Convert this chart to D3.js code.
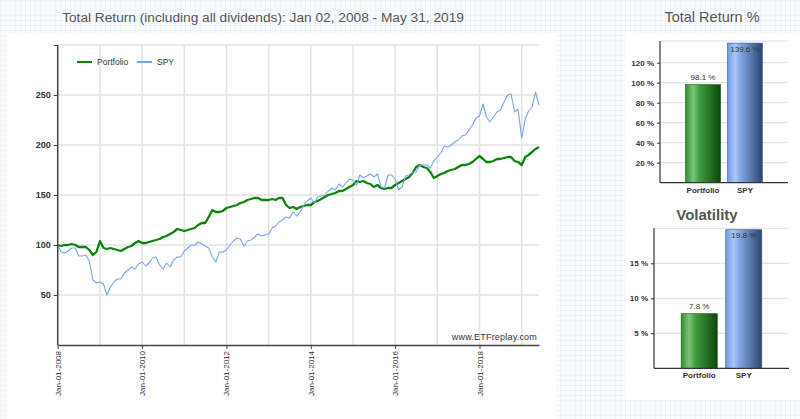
<!DOCTYPE html>
<html><head><meta charset="utf-8">
<script src="https://cdn.jsdelivr.net/npm/d3@7"></script>
<style>body{margin:0;background:#fff;} svg{display:block;font-family:"Liberation Sans",Arial,sans-serif;}</style>
</head><body><svg id="c" width="800" height="419"></svg>
<script>
// ---------- DATA ----------
const months = [
"2008-01-01","2008-02-01","2008-03-01","2008-04-01","2008-05-01","2008-06-01","2008-07-01","2008-08-01","2008-09-01","2008-10-01","2008-11-01","2008-12-01",
"2009-01-01","2009-02-01","2009-03-01","2009-04-01","2009-05-01","2009-06-01","2009-07-01","2009-08-01","2009-09-01","2009-10-01","2009-11-01","2009-12-01",
"2010-01-01","2010-02-01","2010-03-01","2010-04-01","2010-05-01","2010-06-01","2010-07-01","2010-08-01","2010-09-01","2010-10-01","2010-11-01","2010-12-01",
"2011-01-01","2011-02-01","2011-03-01","2011-04-01","2011-05-01","2011-06-01","2011-07-01","2011-08-01","2011-09-01","2011-10-01","2011-11-01","2011-12-01",
"2012-01-01","2012-02-01","2012-03-01","2012-04-01","2012-05-01","2012-06-01","2012-07-01","2012-08-01","2012-09-01","2012-10-01","2012-11-01","2012-12-01",
"2013-01-01","2013-02-01","2013-03-01","2013-04-01","2013-05-01","2013-06-01","2013-07-01","2013-08-01","2013-09-01","2013-10-01","2013-11-01","2013-12-01",
"2014-01-01","2014-02-01","2014-03-01","2014-04-01","2014-05-01","2014-06-01","2014-07-01","2014-08-01","2014-09-01","2014-10-01","2014-11-01","2014-12-01",
"2015-01-01","2015-02-01","2015-03-01","2015-04-01","2015-05-01","2015-06-01","2015-07-01","2015-08-01","2015-09-01","2015-10-01","2015-11-01","2015-12-01",
"2016-01-01","2016-02-01","2016-03-01","2016-04-01","2016-05-01","2016-06-01","2016-07-01","2016-08-01","2016-09-01","2016-10-01","2016-11-01","2016-12-01",
"2017-01-01","2017-02-01","2017-03-01","2017-04-01","2017-05-01","2017-06-01","2017-07-01","2017-08-01","2017-09-01","2017-10-01","2017-11-01","2017-12-01",
"2018-01-01","2018-02-01","2018-03-01","2018-04-01","2018-05-01","2018-06-01","2018-07-01","2018-08-01","2018-09-01","2018-10-01","2018-11-01","2018-12-01",
"2019-01-01","2019-02-01","2019-03-01","2019-04-01","2019-05-01","2019-05-31"];

const portfolio = [
100,99,100,100,101,100,98,98,98,95,90,93,
104,97,96,97,96,95,94,96,98,99,102,104,
102,102,103,104,105,106,108,109,111,113,116,115,
114,115,116,117,120,122,122,128,135,133,133,134,
137,138,139,140,142,143,145,146,147,147,145,145,
145,146,145,147,147,140,137,138,136,138,139,140,
140,143,144,146,148,150,151,152,154,154,156,158,
160,164,163,164,162,161,158,160,157,156,157,157,
160,162,164,166,168,172,178,180,178,177,173,167,
169,171,172,174,175,176,178,180,180,181,183,186,
189,186,183,183,184,186,186,187,188,188,184,183,
180,188,190,193,196,198];

const spy = [
100,93,92,94,97,97,89,89,90,84,65,62,
63,61,50,58,63,66,66,72,75,78,76,81,
83,79,82,87,88,80,76,82,78,85,88,88,
94,97,100,100,103,101,99,97,88,83,93,93,
95,100,104,107,106,99,104,105,108,111,109,110,
111,117,119,123,125,128,127,133,129,133,140,144,
147,142,148,149,150,154,157,155,161,158,162,166,
165,160,170,167,169,171,168,171,158,157,170,170,
166,155,158,169,170,173,173,180,180,180,177,184,
188,192,199,198,200,203,205,209,210,215,220,227,
229,241,228,223,228,233,235,243,250,251,233,236,
207,226,234,238,253,240];

const seriesNames = ["Portfolio","SPY"];
const yTicks = [50,100,150,200,250,300];
const xTickYears = ["2008-01-01","2010-01-01","2012-01-01","2014-01-01","2016-01-01","2018-01-01"];

const barCategories = ["Portfolio","SPY"];
const totalReturn = [98.1, 139.6];
const totalReturnTicks = [20,40,60,80,100,120];
const volatility = [7.8, 19.8];
const volatilityTicks = [5,10,15];

const titleText = "Total Return (including all dividends): Jan 02, 2008 - May 31, 2019";

// ---------- DRAW ----------
const svg = d3.select("#c");
const defs = svg.append("defs");
const pat = defs.append("pattern").attr("id","bgp").attr("width",5).attr("height",5).attr("patternUnits","userSpaceOnUse");
pat.append("rect").attr("width",5).attr("height",5).attr("fill","#fbfcfe");
pat.append("path").attr("d","M5 0 L0 0 0 5").attr("fill","none").attr("stroke","#e6ecf7").attr("stroke-width",1);

function grad(id, stops){
  const g = defs.append("linearGradient").attr("id",id).attr("x1","0%").attr("x2","100%").attr("y1","0%").attr("y2","0%");
  stops.forEach(s=>g.append("stop").attr("offset",s[0]).attr("stop-color",s[1]));
}
grad("gGreen",[["0%","#2f8f2f"],["22%","#7cc57c"],["40%","#3f9c3f"],["100%","#0a470a"]]);
grad("gBlue",[["0%","#7099e2"],["22%","#a9c7f7"],["40%","#7ea2e0"],["100%","#2d4670"]]);
const barFills = ["url(#gGreen)","url(#gBlue)"];
const barStrokes = ["#0d5a0d","#3a5688"];

svg.append("rect").attr("width",800).attr("height",419).attr("fill","url(#bgp)");
svg.append("rect").attr("x",7).attr("y",33).attr("width",549).attr("height",386).attr("fill","#fff");
svg.append("rect").attr("x",625).attr("y",33).attr("width",175).attr("height",367).attr("fill","#fff");

svg.append("text").attr("x",263).attr("y",22).attr("text-anchor","middle")
  .attr("font-size",13.7).attr("fill","#555").text(titleText);

// main chart
const parse = d3.timeParse("%Y-%m-%d");
const dates = months.map(parse);
const x = d3.scaleTime().domain([dates[0], dates[dates.length-1]]).range([57.7, 539]);
const y = d3.scaleLinear().domain([0,300]).range([345,45]);

const grid = svg.append("g");
grid.selectAll("line.v").data(d3.timeYear.range(new Date(2009,0,1), new Date(2019,6,1)))
  .join("line").attr("x1",d=>x(d)).attr("x2",d=>x(d)).attr("y1",45).attr("y2",345)
  .attr("stroke","#e2e2e2").attr("stroke-width",1.5);
grid.selectAll("line.h").data(yTicks).join("line")
  .attr("x1",57.7).attr("x2",539).attr("y1",d=>y(d)).attr("y2",d=>y(d))
  .attr("stroke","#e2e2e2").attr("stroke-width",1.5);

const line = d3.line().x((d,i)=>x(dates[i])).y(d=>y(d));
svg.append("path").datum(portfolio).attr("d",line).attr("fill","none")
  .attr("stroke","#0a850a").attr("stroke-width",2.3).attr("stroke-linejoin","round");
svg.append("path").datum(spy).attr("d",line).attr("fill","none")
  .attr("stroke","#78a4f0").attr("stroke-width",1.1).attr("stroke-linejoin","round");

const yAx = svg.append("g").attr("transform","translate(57.7,0)")
  .call(d3.axisLeft(y).tickValues(yTicks).tickFormat(d=>d===300?"":d).tickSize(4).tickSizeOuter(0));
yAx.select(".domain").attr("stroke","#444").attr("stroke-width",1.5).attr("d","M0,45V345");
yAx.selectAll(".tick line").attr("stroke","#444");
yAx.selectAll("text").attr("font-size",9).attr("font-weight","bold").attr("fill","#333").attr("font-family","Liberation Sans, Arial");

const xAx = svg.append("g").attr("transform","translate(0,345)")
  .call(d3.axisBottom(x).tickValues(xTickYears.map(parse)).tickFormat(d3.timeFormat("%b-%d-%Y")).tickSize(4).tickSizeOuter(0));
xAx.select(".domain").attr("stroke","#444").attr("stroke-width",1.5);
xAx.selectAll(".tick line").attr("stroke","#444");
xAx.selectAll("text").attr("font-size",8).attr("fill","#333").attr("font-family","Liberation Sans, Arial")
  .attr("transform","rotate(-90)").attr("x",-6).attr("y",0).attr("dy","0.32em").style("text-anchor","end");

svg.append("text").attr("x",537).attr("y",340).attr("text-anchor","end")
  .attr("font-size",9).attr("fill","#333").attr("letter-spacing",0.2).text("www.ETFreplay.com");

// legend
const legColors = ["#0a850a","#78a4f0"];
const legX = [77,137];
seriesNames.forEach((n,i)=>{
  svg.append("line").attr("x1",legX[i]).attr("x2",legX[i]+15).attr("y1",62).attr("y2",62)
    .attr("stroke",legColors[i]).attr("stroke-width",2);
  svg.append("text").attr("x",legX[i]+20).attr("y",65).attr("font-size",8.5).attr("fill","#333").text(n);
});

// bar charts
function barChart(cfg){
  const g = svg.append("g");
  const ys = d3.scaleLinear().domain([0,cfg.max]).range([cfg.y0, cfg.yTop]);
  const xs = d3.scaleBand().domain(barCategories).range([cfg.xl, cfg.xr]).paddingInner(cfg.pi).paddingOuter(cfg.po);
  g.selectAll("line.grid").data(cfg.ticks.concat([cfg.max])).join("line")
    .attr("x1",cfg.xl).attr("x2",cfg.xr).attr("y1",d=>ys(d)).attr("y2",d=>ys(d))
    .attr("stroke","#dedede").attr("stroke-width",1);
  g.selectAll("rect.bar").data(cfg.values).join("rect")
    .attr("x",(d,i)=>xs(barCategories[i])).attr("width",xs.bandwidth())
    .attr("y",d=>ys(Math.min(d,cfg.max))).attr("height",d=>cfg.y0-ys(Math.min(d,cfg.max)))
    .attr("fill",(d,i)=>barFills[i]).attr("stroke",(d,i)=>barStrokes[i]).attr("stroke-width",0.6);
  g.selectAll("text.val").data(cfg.values).join("text")
    .attr("x",(d,i)=>xs(barCategories[i])+xs.bandwidth()/2)
    .attr("y",d=>{const t=ys(Math.min(d,cfg.max)); return (t-cfg.yTop<20)? t+8.5 : t-4.5;})
    .attr("text-anchor","middle").attr("font-size",8).attr("fill","#333")
    .text(d=>d.toFixed(1)+" %");
  const ax = g.append("g").attr("transform",`translate(${cfg.xl},0)`)
    .call(d3.axisLeft(ys).tickValues(cfg.ticks).tickFormat(d=>d+" %").tickSize(3).tickSizeOuter(0));
  ax.select(".domain").attr("stroke","#333").attr("stroke-width",1.2).attr("d",`M0,${cfg.yTop}V${cfg.y0}`);
  ax.selectAll(".tick line").attr("stroke","#333");
  ax.selectAll("text").attr("font-size",8).attr("font-weight","bold").attr("fill","#333").attr("font-family","Liberation Sans, Arial");
  g.append("line").attr("x1",cfg.xl).attr("x2",cfg.xr).attr("y1",cfg.y0).attr("y2",cfg.y0)
    .attr("stroke","#333").attr("stroke-width",1.2);
  g.selectAll("text.cat").data(barCategories).join("text")
    .attr("x",d=>xs(d)+xs.bandwidth()/2).attr("y",cfg.y0+10)
    .attr("text-anchor","middle").attr("font-size",8).attr("font-weight","bold").attr("fill","#333").text(d=>d);
  svg.append("text").attr("x",cfg.tx).attr("y",cfg.ty).attr("text-anchor","middle")
    .attr("font-size",cfg.tsize).attr("font-weight",cfg.tweight).attr("fill","#555").text(cfg.title);
}
barChart({values:totalReturn, ticks:totalReturnTicks, max:141.7, y0:182.7, yTop:41, xl:660, xr:788,
  pi:0.167, po:0.61, title:"Total Return %", tx:712, ty:22, tsize:14.5, tweight:"normal"});
barChart({values:volatility, ticks:volatilityTicks, max:20, y0:368.3, yTop:228.3, xl:654, xr:789,
  pi:0.19, po:0.61, title:"Volatility", tx:707, ty:220, tsize:15, tweight:"bold"});
</script></body></html>
